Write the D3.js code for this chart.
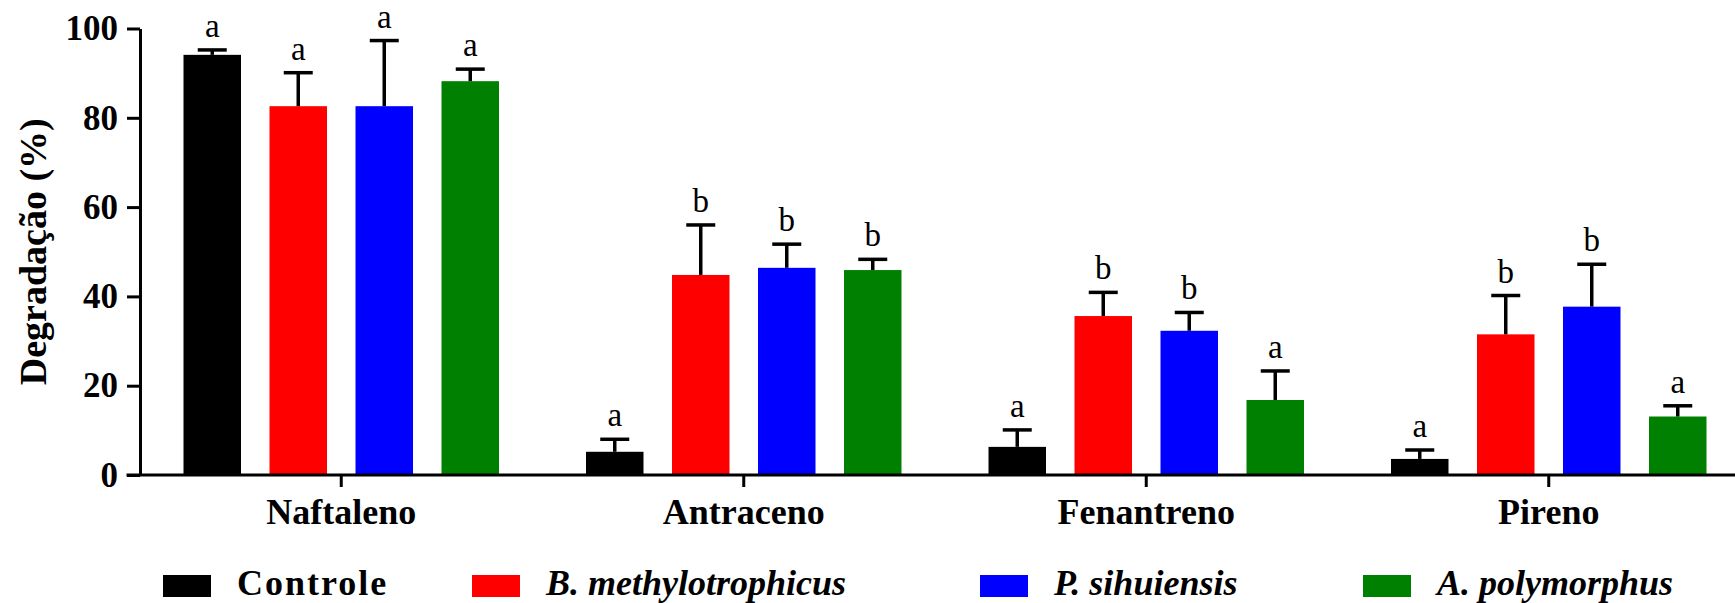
<!DOCTYPE html>
<html>
<head>
<meta charset="utf-8">
<script src="https://cdn.jsdelivr.net/npm/d3@7"></script>
<style>
  html, body { margin: 0; padding: 0; background: #fff; }
  svg { display: block; }
  text { font-family: "Liberation Serif", "Times New Roman", serif; fill: #000; }
</style>
</head>
<body>
<svg id="chart" width="1735" height="603"></svg>
<script>
// Compounds (x groups) and treatments (series)
const compounds = ["Naftaleno", "Antraceno", "Fenantreno", "Pireno"];
const treatments = ["Controle", "B. methylotrophicus", "P. sihuiensis", "A. polymorphus"];
const treatmentColors = ["#000000", "#ff0000", "#0000ff", "#008000"];

// Mean degradation (%) per treatment, in compound order
const controle = [94.1, 5.2, 6.3, 3.6];
const bMethylotrophicus = [82.6, 44.8, 35.6, 31.5];
const pSihuiensis = [82.6, 46.4, 32.3, 37.7];
const aPolymorphus = [88.2, 45.9, 16.8, 13.1];

// Upper error (SD) per treatment
const controleErr = [1.1, 2.8, 3.8, 2.0];
const bMethylotrophicusErr = [7.5, 11.2, 5.3, 8.7];
const pSihuiensisErr = [14.7, 5.3, 4.1, 9.5];
const aPolymorphusErr = [2.7, 2.4, 6.5, 2.4];

// Significance letters
const controleSig = ["a", "a", "a", "a"];
const bMethylotrophicusSig = ["a", "b", "b", "b"];
const pSihuiensisSig = ["a", "b", "b", "b"];
const aPolymorphusSig = ["a", "b", "a", "a"];

const yTicks = [0, 20, 40, 60, 80, 100];

const means = [controle, bMethylotrophicus, pSihuiensis, aPolymorphus];
const errs = [controleErr, bMethylotrophicusErr, pSihuiensisErr, aPolymorphusErr];
const sigs = [controleSig, bMethylotrophicusSig, pSihuiensisSig, aPolymorphusSig];

const rows = [];
compounds.forEach((c, ci) => {
  treatments.forEach((t, ti) => {
    rows.push({ compound: c, treatment: t, ti, value: means[ti][ci], err: errs[ti][ci], sig: sigs[ti][ci] });
  });
});

const svg = d3.select("#chart");

// Scales
const x0 = d3.scaleBand().domain(compounds).range([140, 1750]).paddingInner(0).paddingOuter(0);
const x1 = d3.scaleBand().domain(treatments).range([43.5, 359]).paddingInner(0.3314).paddingOuter(0);
const y = d3.scaleLinear().domain([0, 100]).range([475, 28.5]);
const color = d3.scaleOrdinal().domain(treatments).range(treatmentColors);

// Bars
const g = svg.append("g");
g.selectAll("rect.bar")
  .data(rows)
  .join("rect")
  .attr("class", "bar")
  .attr("x", d => x0(d.compound) + x1(d.treatment))
  .attr("width", x1.bandwidth())
  .attr("y", d => y(d.value))
  .attr("height", d => y(0) - y(d.value))
  .attr("fill", d => color(d.treatment));

// Upper error bars
const capW = 29;
const eb = g.selectAll("g.err").data(rows).join("g").attr("class", "err")
  .attr("stroke", "#000").attr("stroke-width", 3.5);
eb.append("line")
  .attr("x1", d => x0(d.compound) + x1(d.treatment) + x1.bandwidth() / 2)
  .attr("x2", d => x0(d.compound) + x1(d.treatment) + x1.bandwidth() / 2)
  .attr("y1", d => y(d.value))
  .attr("y2", d => y(d.value + d.err));
eb.append("line")
  .attr("x1", d => x0(d.compound) + x1(d.treatment) + x1.bandwidth() / 2 - capW / 2)
  .attr("x2", d => x0(d.compound) + x1(d.treatment) + x1.bandwidth() / 2 + capW / 2)
  .attr("y1", d => y(d.value + d.err))
  .attr("y2", d => y(d.value + d.err));

// Significance letters
g.selectAll("text.sig")
  .data(rows)
  .join("text")
  .attr("class", "sig")
  .attr("x", d => x0(d.compound) + x1(d.treatment) + x1.bandwidth() / 2)
  .attr("y", d => y(d.value + d.err) - 13)
  .attr("text-anchor", "middle")
  .attr("font-size", 33)
  .text(d => d.sig);

// Y axis
const yAxis = svg.append("g")
  .attr("transform", "translate(140,0)")
  .call(d3.axisLeft(y).tickValues(yTicks).tickSize(13).tickSizeOuter(0).tickPadding(9));
yAxis.selectAll("path, line").attr("stroke", "#000").attr("stroke-width", 3);
yAxis.selectAll("text")
  .attr("font-family", "'Liberation Serif', 'Times New Roman', serif")
  .attr("font-size", 35).attr("font-weight", "bold").attr("fill", "#000");

// X axis
const xAxis = svg.append("g")
  .attr("transform", `translate(0,${y(0)})`)
  .call(d3.axisBottom(x0).tickSize(12).tickSizeOuter(0).tickPadding(11));
xAxis.select(".domain").remove();
xAxis.append("line")
  .attr("x1", 126.5).attr("x2", 1735).attr("y1", 0).attr("y2", 0)
  .attr("stroke", "#000").attr("stroke-width", 3);
xAxis.selectAll("line").attr("stroke", "#000").attr("stroke-width", 3);
xAxis.selectAll("text")
  .attr("font-family", "'Liberation Serif', 'Times New Roman', serif")
  .attr("font-size", 36).attr("font-weight", "bold").attr("fill", "#000");

// Y axis title
svg.append("text")
  .attr("transform", `translate(46,${(y(0) + y(100)) / 2}) rotate(-90)`)
  .attr("text-anchor", "middle")
  .attr("font-size", 38)
  .attr("font-weight", "bold")
  .text("Degradação (%)");

// Legend
const legendX = [163, 472, 980, 1363];
const legend = svg.append("g").selectAll("g")
  .data(treatments)
  .join("g")
  .attr("transform", (d, i) => `translate(${legendX[i]},575)`);
legend.append("rect")
  .attr("width", 48).attr("height", 22)
  .attr("fill", d => color(d));
legend.append("text")
  .attr("x", 74).attr("y", 20)
  .attr("font-size", 36)
  .attr("font-weight", "bold")
  .attr("font-style", (d, i) => i === 0 ? "normal" : "italic")
  .attr("letter-spacing", (d, i) => i === 0 ? 2 : 0)
  .text(d => d);
</script>
</body>
</html>
